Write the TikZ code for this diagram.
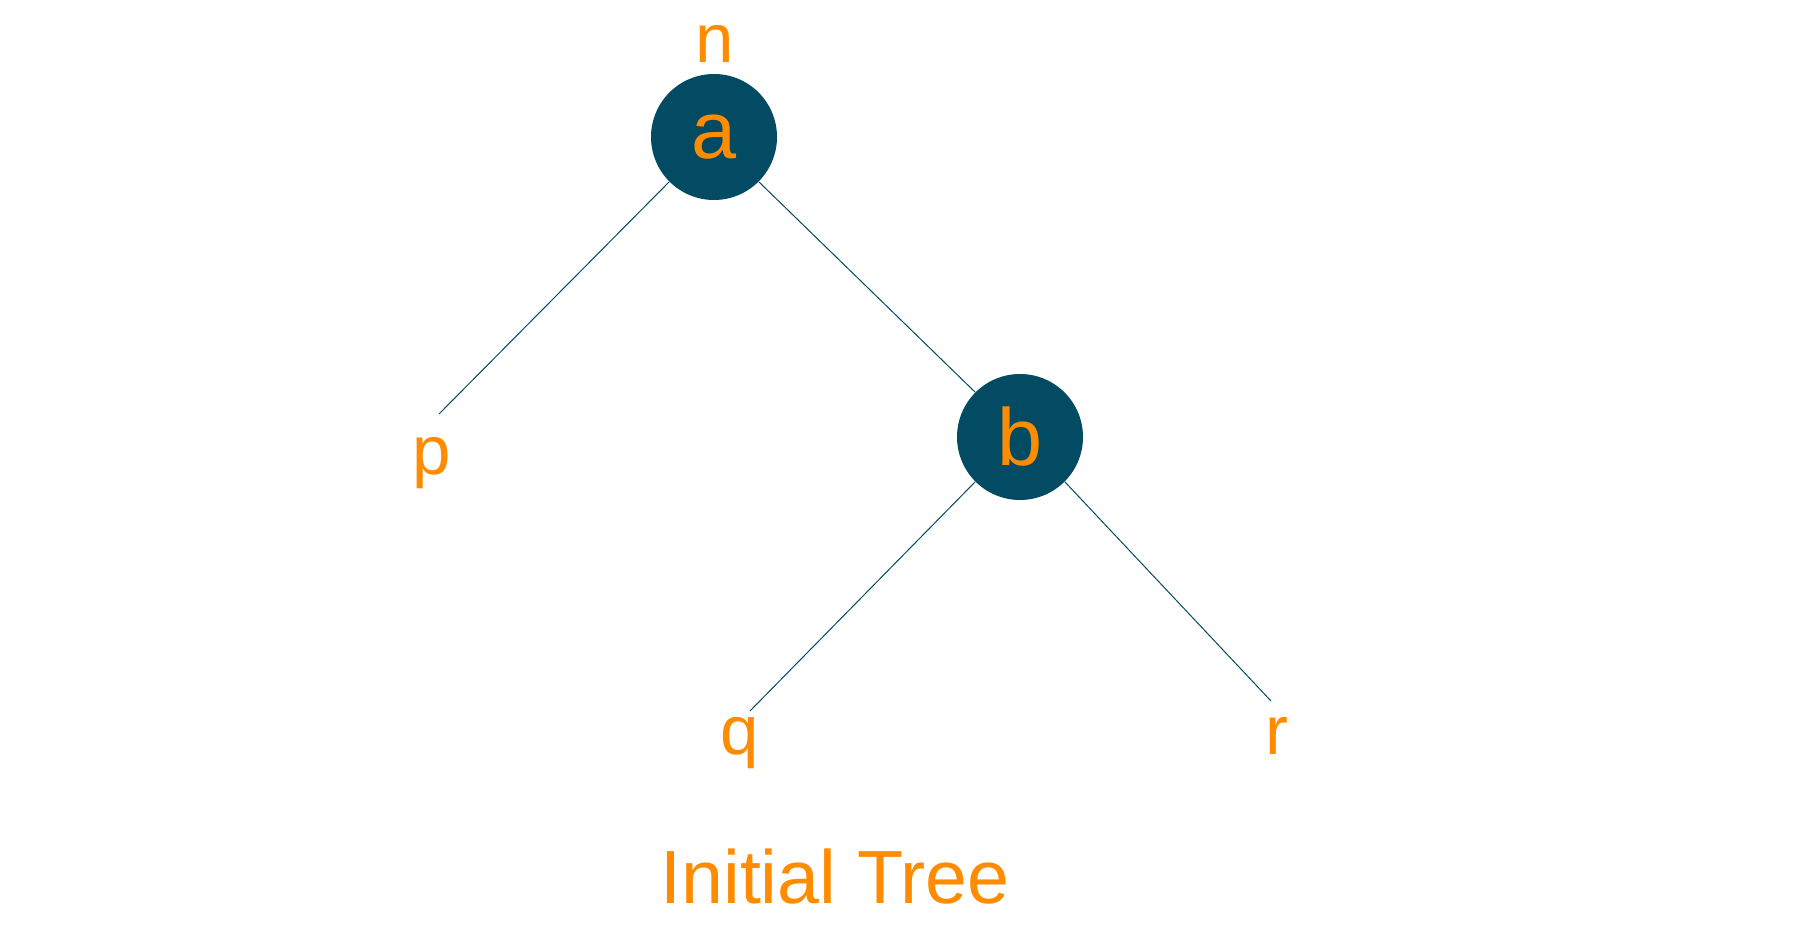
\documentclass[tikz,border=0pt]{standalone}
\usepackage{fontspec}
\setmainfont{Liberation Sans}
\definecolor{teal}{HTML}{034A63}
\definecolor{orng}{HTML}{FF8C00}
\begin{document}
\begin{tikzpicture}[x=0.5pt,y=-0.5pt,
  treenode/.style={circle,fill=teal,draw=none,minimum size=63pt,inner sep=0pt,text=orng,font=\fontsize{40.5}{40.5}\selectfont},
  leaflabel/.style={anchor=base,inner sep=0pt,text=orng,font=\fontsize{34.5}{34.5}\selectfont},
  edge/.style={draw=teal,line width=0.5pt}]
\useasboundingbox (0,0) rectangle (1800,936);
\node[treenode] (a) at (714,137) {a};
\node[treenode] (b) at (1020,437) {b};
\node[leaflabel] (n) at (715,63) {n};
\node[leaflabel] (p) at (432,474) {p};
\node[leaflabel] (q) at (740,754) {q};
\node[leaflabel] (r) at (1277,754) {r};
\coordinate (ep) at (439,414);
\coordinate (eq) at (750,711);
\coordinate (er) at (1271,701);
\draw[edge] (a.-135) -- (ep);
\draw[edge] (a.-45) -- (b.135);
\draw[edge] (b.-135) -- (eq);
\draw[edge] (b.-45) -- (er);
\node[anchor=base,inner sep=0pt,text=orng,font=\fontsize{37.7}{37.7}\selectfont] (title) at (835,903) {Initial Tree};
\end{tikzpicture}
\end{document}
